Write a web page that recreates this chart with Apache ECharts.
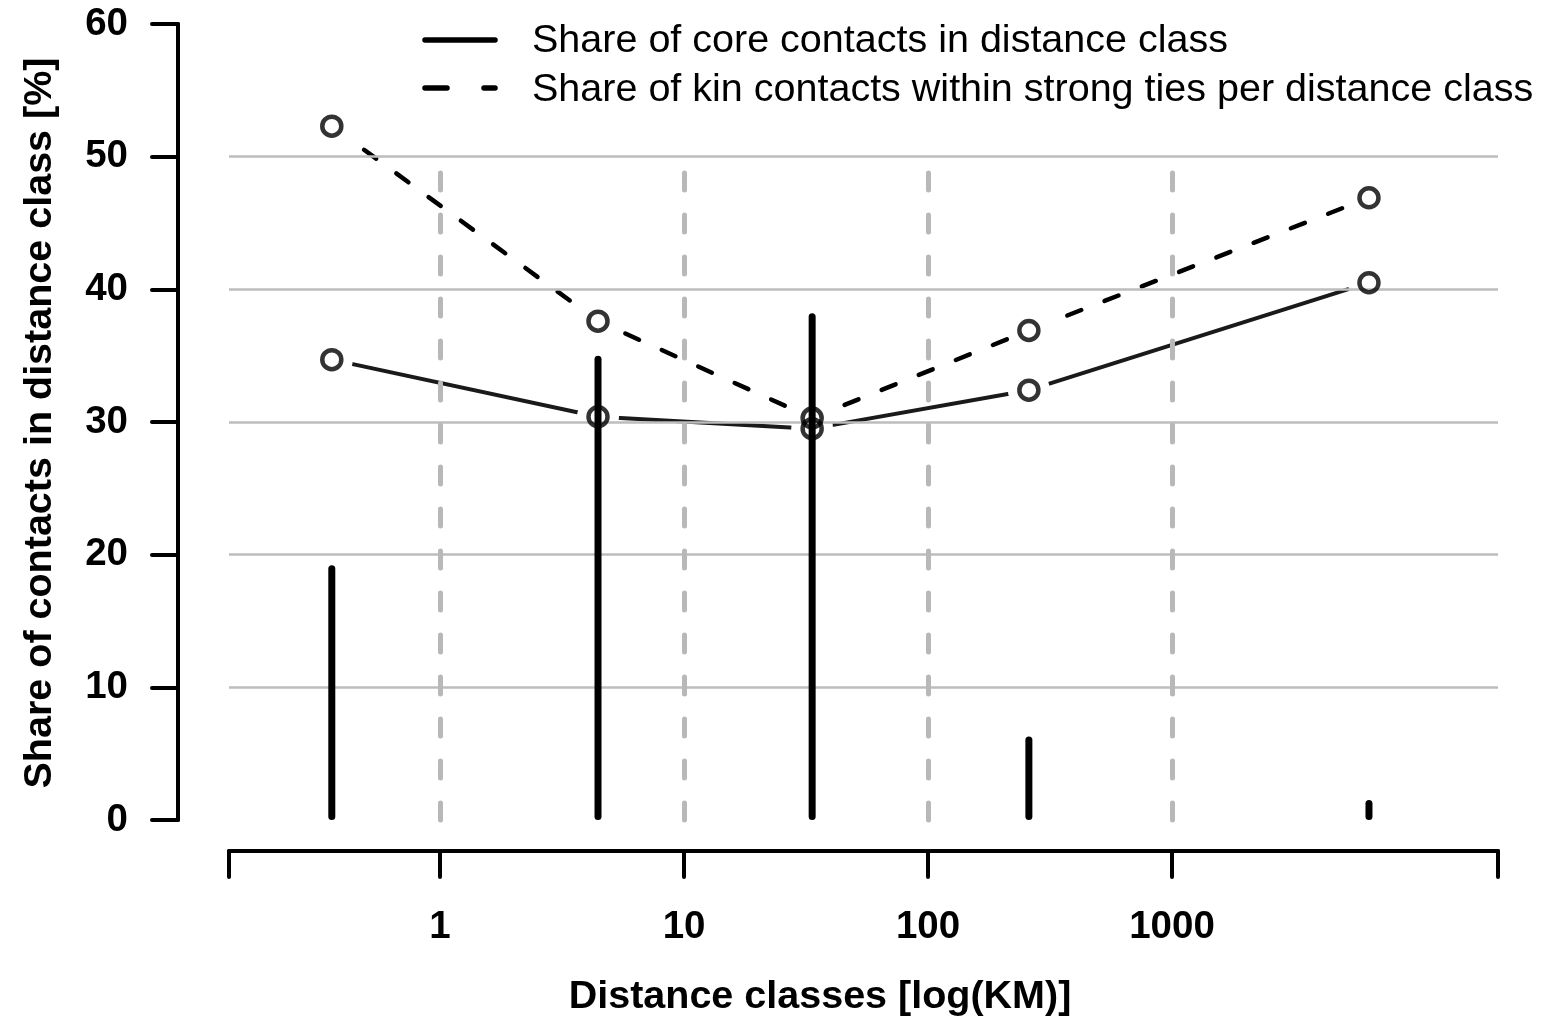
<!DOCTYPE html>
<html>
<head>
<meta charset="utf-8">
<script src="https://cdn.jsdelivr.net/npm/echarts@6/dist/echarts.min.js"></script>
<style>
  html, body { margin: 0; padding: 0; background: #fff; }
  #chart { width: 1543px; height: 1019px; }
</style>
</head>
<body>
<div id="chart"></div>
<script>
// ---- data (distance class midpoints in km, shares in %) ----
const distancesKm = [0.36, 4.44, 33.5, 259, 6415];
const shareInClass = [19.2, 35.0, 38.2, 6.3, 1.5];          // vertical bars
const coreShare = [34.7, 30.4, 29.5, 32.4, 40.5];            // solid line
const kinShare = [52.3, 37.6, 30.3, 36.9, 46.9];             // dashed line
const xTickLabels = [1, 10, 100, 1000];
const yTicks = [0, 10, 20, 30, 40, 50, 60];
const legendLabels = [
  'Share of core contacts in distance class',
  'Share of kin contacts within strong ties per distance class'
];
const xTitle = 'Distance classes [log(KM)]';
const yTitle = 'Share of contacts in distance class [%]';

// ---- axis extent (log10 km) ----
const xMinLog = -0.865, xMaxLog = 4.336;

const FONT = '"Liberation Sans", Arial, Helvetica, sans-serif';
const logX = distancesKm.map(d => Math.log10(d));
const pts = arr => arr.map((v, i) => [logX[i], v]);

const chart = echarts.init(document.getElementById('chart'), null, { renderer: 'canvas' });

const option = {
  animation: false,
  backgroundColor: '#fff',
  grid: { left: 229, right: 45, top: 24, bottom: 199, containLabel: false },
  xAxis: {
    type: 'value',
    min: xMinLog,
    max: xMaxLog,
    offset: 31,
    axisLine: { show: true, onZero: false, lineStyle: { color: '#000', width: 4, cap: 'round' } },
    axisTick: {
      show: true, length: 26, inside: false,
      customValues: [xMinLog].concat(xTickLabels.map(v => Math.log10(v)), [xMaxLog]),
      lineStyle: { color: '#000', width: 4, cap: 'round' }
    },
    axisLabel: {
      customValues: xTickLabels.map(v => Math.log10(v)),
      formatter: v => String(Math.round(Math.pow(10, v))),
      margin: 57, fontSize: 38.5, fontWeight: 'bold', color: '#000', fontFamily: FONT
    },
    splitLine: { show: false }
  },
  yAxis: {
    type: 'value',
    min: yTicks[0],
    max: yTicks[yTicks.length - 1],
    interval: 10,
    offset: 51,
    axisLine: { show: true, onZero: false, lineStyle: { color: '#000', width: 4, cap: 'round' } },
    axisTick: { show: true, length: 26, lineStyle: { color: '#000', width: 4, cap: 'round' } },
    axisLabel: { margin: 50, fontSize: 38.5, fontWeight: 'bold', color: '#000', fontFamily: FONT,
      padding: [6, 0, 0, 0] },
    splitLine: { show: true, showMinLine: false, showMaxLine: false, lineStyle: { color: '#bdbdbd', width: 2.5 } }
  },
  series: [
    {
      name: legendLabels[0], type: 'line', data: pts(coreShare), z: -3,
      showSymbol: false, silent: true,
      lineStyle: { color: '#1a1a1a', width: 4, cap: 'round' }
    },
    {
      name: legendLabels[1], type: 'line', data: pts(kinShare), z: -3,
      showSymbol: false, silent: true,
      lineStyle: { color: '#000', width: 4.5, type: [15, 25], cap: 'round' }
    },
    {
      name: 'gap', type: 'scatter', z: -2, silent: true,
      data: pts(coreShare).concat(pts(kinShare)),
      symbol: 'circle', symbolSize: 42,
      itemStyle: { color: '#fff', opacity: 1 }
    },
    {
      name: 'vgrid', type: 'line', data: [], z: 1, silent: true,
      markLine: {
        silent: true, symbol: ['none', 'none'], label: { show: false },
        lineStyle: { color: '#b8b8b8', width: 5, type: [17, 25], cap: 'round' },
        data: xTickLabels.map(v => [
          { coord: [Math.log10(v), 0] },
          { coord: [Math.log10(v), 49] }
        ])
      }
    },
    {
      name: 'class share', type: 'bar', data: pts(shareInClass), z: 2,
      barWidth: 7, silent: true,
      itemStyle: { color: '#000', borderRadius: 3.5 }
    },
    {
      name: 'core points', type: 'scatter', data: pts(coreShare), z: 3, silent: true,
      symbol: 'circle', symbolSize: 19,
      itemStyle: { color: 'rgba(0,0,0,0)', borderColor: '#000', borderWidth: 4.5 }
    },
    {
      name: 'kin points', type: 'scatter', data: pts(kinShare), z: 3, silent: true,
      symbol: 'circle', symbolSize: 19,
      itemStyle: { color: 'rgba(0,0,0,0)', borderColor: '#000', borderWidth: 4.5 }
    }
  ],
  graphic: [
    // legend
    { type: 'line', shape: { x1: 425, y1: 40, x2: 495, y2: 40 },
      style: { stroke: '#000', lineWidth: 5.5, lineCap: 'round' } },
    { type: 'line', shape: { x1: 425, y1: 88, x2: 447, y2: 88 },
      style: { stroke: '#000', lineWidth: 5.5, lineCap: 'round' } },
    { type: 'line', shape: { x1: 484, y1: 88, x2: 495, y2: 88 },
      style: { stroke: '#000', lineWidth: 5.5, lineCap: 'round' } },
    { type: 'text', x: 532, y: 41,
      style: { text: legendLabels[0], font: '39.5px ' + FONT, fill: '#000', verticalAlign: 'middle' } },
    { type: 'text', x: 532, y: 90,
      style: { text: legendLabels[1], font: '39.5px ' + FONT, fill: '#000', verticalAlign: 'middle' } },
    // axis titles
    { type: 'text', x: 820, y: 997,
      style: { text: xTitle, font: 'bold 39.5px ' + FONT, fill: '#000', align: 'center', verticalAlign: 'middle' } },
    { type: 'text', x: 40, y: 423, rotation: Math.PI / 2,
      style: { text: yTitle, font: 'bold 39.5px ' + FONT, fill: '#000', align: 'center', verticalAlign: 'middle' } }
  ]
};

chart.setOption(option);
</script>
</body>
</html>
